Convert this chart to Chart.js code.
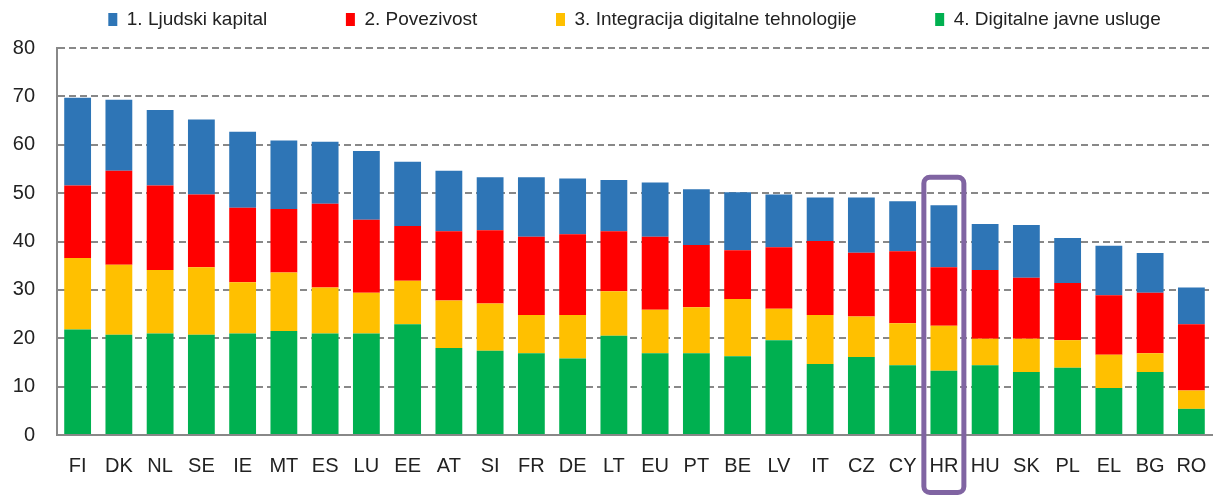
<!DOCTYPE html>
<html><head><meta charset="utf-8">
<script src="https://cdn.jsdelivr.net/npm/chart.js@4"></script>
<style>html,body{margin:0;padding:0;background:#fff}</style>
</head><body>
<canvas id="c" width="1219" height="497"></canvas>
<script>
const categories = ['FI','DK','NL','SE','IE','MT','ES','LU','EE','AT','SI','FR','DE','LT','EU','PT','BE','LV','IT','CZ','CY','HR','HU','SK','PL','EL','BG','RO'];
const ljudskiKapital = [18.1,14.7,15.6,15.5,15.7,14.2,12.8,14.2,13.3,12.5,11.0,12.3,11.5,10.6,11.2,11.5,12.0,10.9,9.0,11.4,10.3,12.8,9.5,10.9,9.3,10.2,8.2,7.6];
const povezivost = [15.0,19.4,17.5,15.0,15.4,13.1,17.3,15.1,11.3,14.3,15.1,16.2,16.7,12.4,15.1,12.9,10.1,12.7,15.3,13.2,14.9,12.1,14.2,12.6,11.8,12.3,12.5,13.7];
const integracija = [14.8,14.5,13.1,14.0,10.6,12.1,9.5,8.4,9.0,9.8,9.8,7.9,9.0,9.2,9.0,9.5,11.8,6.5,10.1,8.4,8.7,9.3,5.5,6.9,5.7,6.9,3.9,3.8];
const javneUsluge = [21.8,20.7,21.0,20.7,21.0,21.5,21.0,21.0,22.9,18.0,17.4,16.9,15.8,20.5,16.9,16.9,16.3,19.6,14.7,16.1,14.4,13.3,14.4,13.0,13.9,9.7,13.0,5.4];
const seriesNames = ['1. Ljudski kapital','2. Povezivost','3. Integracija digitalne tehnologije','4. Digitalne javne usluge'];
const yMin = 0, yMax = 80, yStep = 10;
const highlightCategory = 'HR';
const highlightTop = 53.3;

const FONT = "'Liberation Sans', Arial, sans-serif";

const highlightBox = {
  id: 'highlightBox',
  beforeLayout(chart) {
    const lg = chart.legend;
    if (lg && !lg._wrapped) {
      const f = lg.fit.bind(lg);
      lg.fit = function () { f(); this.height += 9; };
      lg._wrapped = true;
    }
  },
  afterDraw(chart) {
    const ctx = chart.ctx, xs = chart.scales.x, ys = chart.scales.y;
    const idx = categories.indexOf(highlightCategory);
    const cx = xs.getPixelForValue(idx);
    const half = xs.width / categories.length * 0.485;
    const top = ys.getPixelForValue(highlightTop);
    const bottom = chart.height - 4.5;
    ctx.save();
    ctx.strokeStyle = '#8064A2';
    ctx.lineWidth = 5;
    ctx.beginPath();
    ctx.roundRect(cx - half, top, 2 * half, bottom - top, 6);
    ctx.stroke();
    ctx.restore();
  }
};

const baseGen = Chart.defaults.plugins.legend.labels.generateLabels;

new Chart(document.getElementById('c'), {
  type: 'bar',
  data: {
    labels: categories,
    datasets: [
      {label: seriesNames[3], data: javneUsluge, backgroundColor: '#00B050'},
      {label: seriesNames[2], data: integracija, backgroundColor: '#FFC000'},
      {label: seriesNames[1], data: povezivost, backgroundColor: '#FF0000'},
      {label: seriesNames[0], data: ljudskiKapital, backgroundColor: '#2E75B6'}
    ]
  },
  options: {
    responsive: false,
    animation: false,
    layout: {padding: {top: 0, right: 7, left: 0, bottom: 0}},
    datasets: {bar: {barPercentage: 0.65, categoryPercentage: 1, borderWidth: 0}},
    plugins: {
      tooltip: {enabled: false},
      legend: {
        position: 'top',
        fullSize: false,
        reverse: true,
        labels: {
          boxWidth: 9, boxHeight: 13, padding: 10,
          color: '#222',
          font: {family: FONT, size: 19},
          generateLabels(chart) {
            const items = baseGen(chart);
            items.forEach((it, i) => { it.lineWidth = 0; if (i > 0) it.text = it.text + '             '; });
            return items;
          }
        }
      }
    },
    scales: {
      x: {
        stacked: true,
        grid: {display: false, drawTicks: false},
        border: {display: true, color: '#888', width: 2},
        ticks: {color: '#222', font: {family: FONT, size: 20}, padding: 19, maxRotation: 0, autoSkip: false},
        afterFit(s) { s.height = 62; s.paddingLeft = 0; s.paddingRight = 0; }
      },
      y: {
        stacked: true,
        min: yMin, max: yMax,
        grid: {color: '#888', lineWidth: 2, drawTicks: false},
        border: {display: true, color: '#888', width: 2, dash: [7, 4]},
        ticks: {stepSize: yStep, color: '#222', font: {family: FONT, size: 20}, padding: 22},
        afterFit(s) { s.width = 57; }
      }
    }
  },
  plugins: [highlightBox]
});
</script>
</body></html>
